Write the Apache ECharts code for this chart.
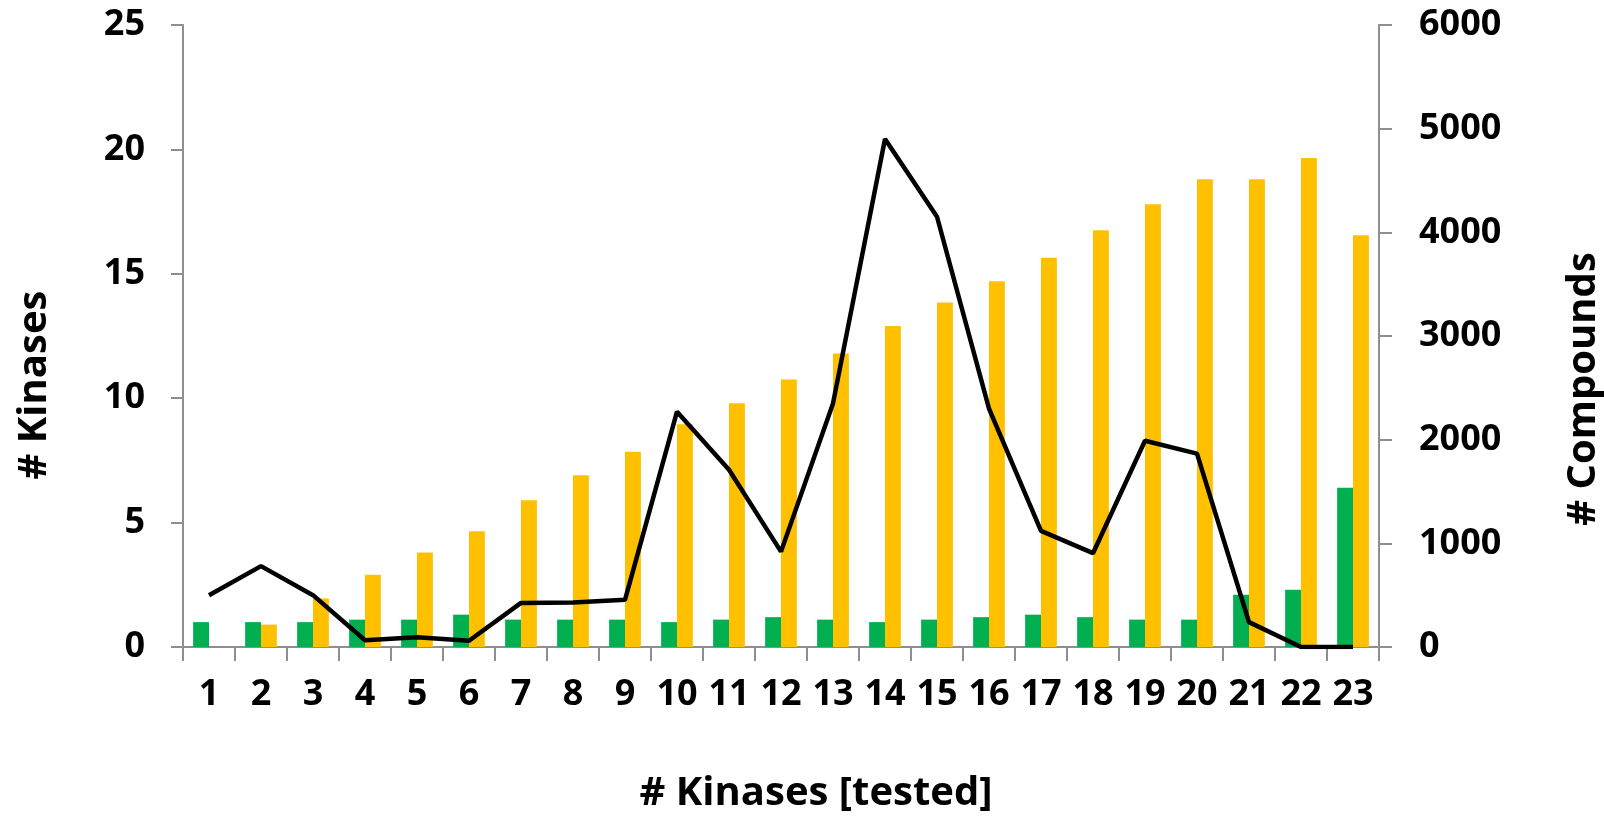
<!DOCTYPE html>
<html>
<head>
<meta charset="utf-8">
<script src="https://cdn.jsdelivr.net/npm/echarts@6/dist/echarts.min.js"></script>
<style>
html,body{margin:0;padding:0;background:#fff;}
#chart{width:1604px;height:822px;}
</style>
</head>
<body>
<div id="chart"></div>
<script>
const categories = ['1','2','3','4','5','6','7','8','9','10','11','12','13','14','15','16','17','18','19','20','21','22','23'];
const greenValues = [1, 1, 1, 1.1, 1.1, 1.3, 1.1, 1.1, 1.1, 1.0, 1.1, 1.2, 1.1, 1.0, 1.1, 1.2, 1.3, 1.2, 1.1, 1.1, 2.1, 2.3, 6.4];
const orangeValues = [0, 0.9, 1.95, 2.9, 3.8, 4.65, 5.9, 6.9, 7.85, 8.95, 9.8, 10.75, 11.8, 12.9, 13.85, 14.7, 15.65, 16.75, 17.8, 18.8, 18.8, 19.65, 16.55];
const compoundValues = [500, 780, 500, 65, 95, 60, 425, 430, 455, 2270, 1710, 920, 2350, 4900, 4150, 2300, 1120, 905, 1990, 1865, 240, 0, 0];

const FONT = '"Open Sans", "DejaVu Sans", sans-serif';
const AX = '#8e8e8e';
const labelStyle = {color: '#000', fontWeight: 'bold', fontSize: 36, fontFamily: FONT};
const nameStyle = {color: '#000', fontWeight: 'bold', fontSize: 40, fontFamily: FONT};

const chart = echarts.init(document.getElementById('chart'), null, {renderer: 'canvas'});
chart.setOption({
  animation: false,
  backgroundColor: '#fff',
  grid: {left: 183, right: 225, top: 25, bottom: 175, containLabel: false, outerBoundsMode: 'none'},
  xAxis: {
    type: 'category',
    data: categories,
    boundaryGap: true,
    axisLine: {lineStyle: {color: AX, width: 2}},
    axisTick: {show: true, length: 14, lineStyle: {color: AX, width: 2}},
    axisLabel: Object.assign({interval: 0, margin: 30}, labelStyle),
    splitLine: {show: false},
    name: '# Kinases [tested]',
    nameLocation: 'middle',
    nameGap: 127,
    nameTextStyle: Object.assign({padding: [0, 0, 0, 70]}, nameStyle)
  },
  yAxis: [
    {
      type: 'value', min: 0, max: 25, interval: 5, position: 'left',
      axisLine: {show: true, lineStyle: {color: AX, width: 2}},
      axisTick: {show: true, length: 12, lineStyle: {color: AX, width: 2}},
      axisLabel: Object.assign({margin: 38}, labelStyle),
      splitLine: {show: false},
      name: '# Kinases',
      nameLocation: 'middle',
      nameRotate: 90,
      nameGap: 128,
      nameTextStyle: Object.assign({padding: [0, 98, 0, 0]}, nameStyle)
    },
    {
      type: 'value', min: 0, max: 6000, interval: 1000, position: 'right',
      axisLine: {show: true, lineStyle: {color: AX, width: 2}},
      axisTick: {show: true, length: 13, lineStyle: {color: AX, width: 2}},
      axisLabel: Object.assign({margin: 40, formatter: function (v) { return String(v); }}, labelStyle),
      splitLine: {show: false},
      name: '# Compounds',
      nameLocation: 'middle',
      nameRotate: 90,
      nameGap: 185,
      nameTextStyle: Object.assign({padding: [0, 106, 0, 0]}, nameStyle)
    }
  ],
  series: [
    {
      type: 'bar', yAxisIndex: 0, data: greenValues,
      itemStyle: {color: '#00B050'},
      barGap: '0%', barCategoryGap: '39%'
    },
    {
      type: 'bar', yAxisIndex: 0, data: orangeValues,
      itemStyle: {color: '#FFC000'},
      barGap: '0%', barCategoryGap: '39%'
    },
    {
      type: 'line', yAxisIndex: 1, data: compoundValues,
      showSymbol: false, symbol: 'none',
      lineStyle: {color: '#000', width: 4.5},
      z: 5
    }
  ]
});
</script>
</body>
</html>
